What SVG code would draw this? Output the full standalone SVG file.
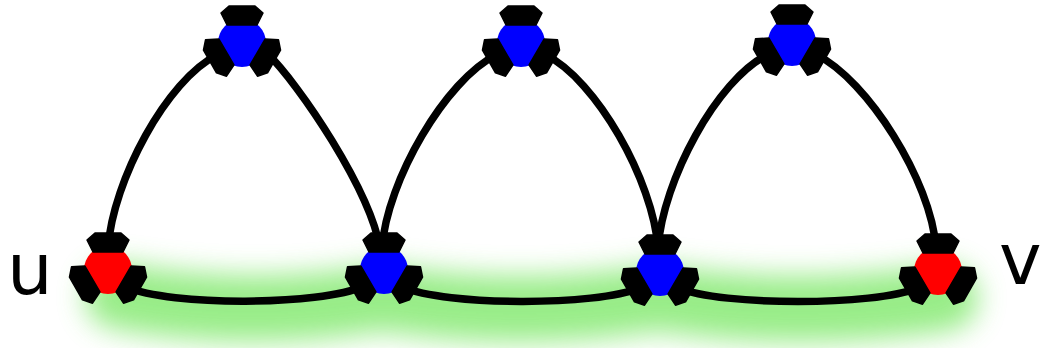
<svg xmlns="http://www.w3.org/2000/svg" width="1041" height="348" viewBox="0 0 1041 348">
  <defs>
    <filter id="soft" filterUnits="userSpaceOnUse" x="0" y="150" width="1041" height="198">
      <feGaussianBlur stdDeviation="14"/>
    </filter>
    <!-- one port tab, pointing up from the node centre -->
    <path id="tab" d="M -13,-37 L 13,-37 L 21,-30 L 15,-18 L -15,-18 L -21,-30 Z"/>
    <g id="ports">
      <use href="#tab"/>
      <use href="#tab" transform="rotate(-120)"/>
      <use href="#tab" transform="rotate(120)"/>
    </g>
  </defs>
  <style>
    .edge { fill: none; stroke: #000; stroke-width: 7.5; stroke-linecap: round; }
    .blue { fill: #0000ff; }
    .red { fill: #ff0000; }
    .tabs { fill: #000; stroke: #000; stroke-width: 1.5; stroke-linejoin: round; }
    .label { font-family: "DejaVu Sans", sans-serif; font-size: 72px; fill: #000; }
  </style>

  <rect width="1041" height="348" fill="#fff"/>

  <!-- highlighted path along the bottom row -->
  <g id="highlight" filter="url(#soft)" opacity="0.8">
    <path d="M 118,296 Q 245,320 383,298 Q 520,320 658,298 Q 797,320 945,298" fill="none" stroke="#7fe86a" stroke-width="66" stroke-linecap="round"/>
  </g>

  <g id="connectors">
    <!-- arch 1 -->
    <path class="edge" d="M 108,248 C 113,180 167,80 217,55"/>
    <path class="edge" d="M 266,52 C 300,85 370,190 380,248"/>
    <!-- arch 2 -->
    <path class="edge" d="M 382,248 C 387,180 446,80 496,55"/>
    <path class="edge" d="M 546,55 C 596,80 653,180 658,248"/>
    <!-- arch 3 -->
    <path class="edge" d="M 658,248 C 663,180 717,80 767,55"/>
    <path class="edge" d="M 817,55 C 867,80 931,180 936,248"/>
    <!-- bottom row -->
    <path class="edge" d="M 126,287 C 170,306 320,306 364,286"/>
    <path class="edge" d="M 402,287 C 446,306 596,306 640,288"/>
    <path class="edge" d="M 678,288 C 722,306 874,306 918,288"/>
  </g>

  <g id="node-top1" transform="translate(242,43)">
    <circle class="blue" r="24"/>
    <use class="tabs" href="#ports"/>
  </g>
  <g id="node-top2" transform="translate(521,43)">
    <circle class="blue" r="24"/>
    <use class="tabs" href="#ports"/>
  </g>
  <g id="node-top3" transform="translate(792,42)">
    <circle class="blue" r="24"/>
    <use class="tabs" href="#ports"/>
  </g>
  <g id="node-u" transform="translate(108,270)">
    <circle class="red" r="24"/>
    <use class="tabs" href="#ports"/>
  </g>
  <g id="node-b2" transform="translate(384,270)">
    <circle class="blue" r="24"/>
    <use class="tabs" href="#ports"/>
  </g>
  <g id="node-b3" transform="translate(660,272)">
    <circle class="blue" r="24"/>
    <use class="tabs" href="#ports"/>
  </g>
  <g id="node-v" transform="translate(938,271)">
    <circle class="red" r="24"/>
    <use class="tabs" href="#ports"/>
  </g>

  <g id="labels">
    <text class="label" x="7" y="294">u</text>
    <text class="label" x="999" y="284">v</text>
  </g>
</svg>
